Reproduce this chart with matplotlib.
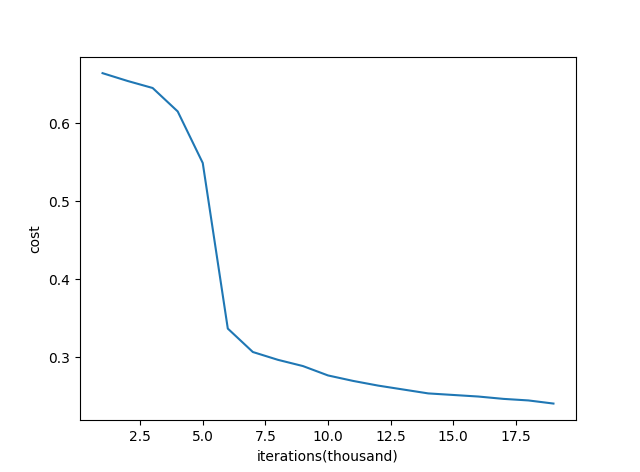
import matplotlib
matplotlib.use("Agg")
import matplotlib.pyplot as plt

iterations = list(range(1, 20))
cost = [0.664, 0.654, 0.645, 0.615, 0.549, 0.337, 0.307, 0.297, 0.289,
        0.277, 0.270, 0.264, 0.259, 0.254, 0.252, 0.250, 0.247, 0.245, 0.241]

fig, ax = plt.subplots(figsize=(6.4, 4.72), dpi=100)
ax.plot(iterations, cost)
ax.set_xlabel("iterations(thousand)")
ax.set_ylabel("cost")
fig.savefig("out.png")
